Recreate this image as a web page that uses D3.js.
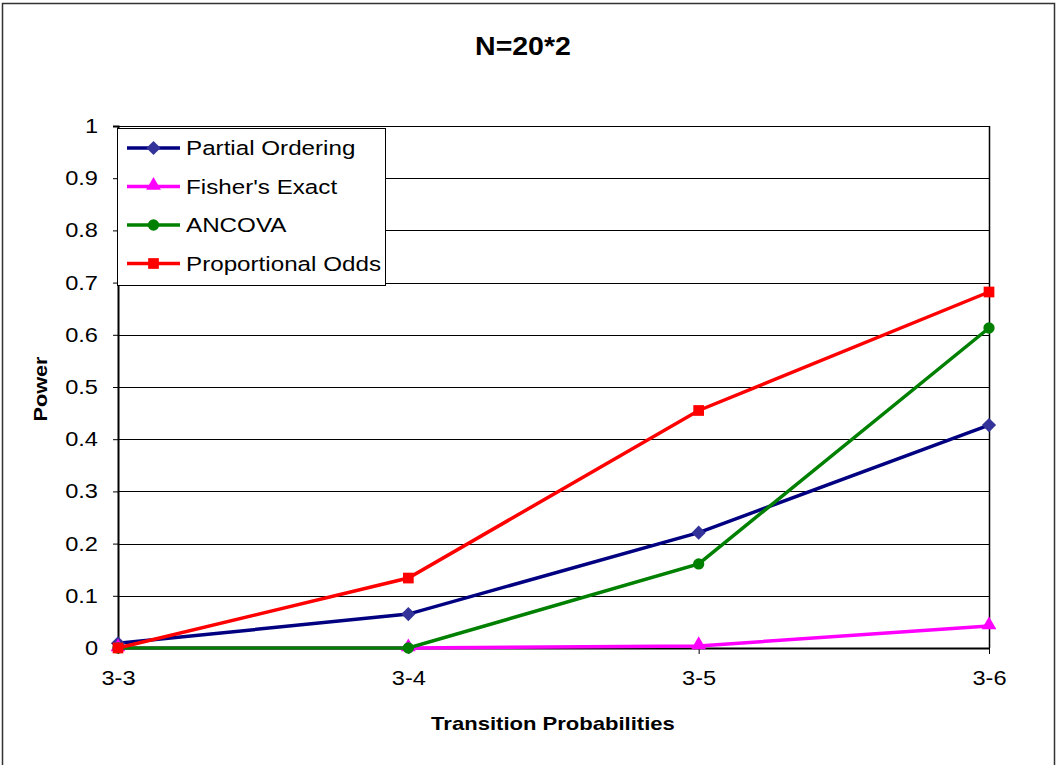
<!DOCTYPE html>
<html lang="en">
<head>
<meta charset="UTF-8">
<title>N=20*2</title>
<script src="https://cdn.jsdelivr.net/npm/d3@7"></script>
<style>
	body { margin: 0; background: #fff; }
	text { font-family: "Liberation Sans", Arial, sans-serif; }
</style>
</head>
<body>
<div id="chart"></div>
<script>
let categories = ['3-3', '3-4', '3-5', '3-6'];
let yTicks = [0, 0.1, 0.2, 0.3, 0.4, 0.5, 0.6, 0.7, 0.8, 0.9, 1];
let partialOrdering = [0.009, 0.065, 0.221, 0.427];
let fishersExact = [0, 0, 0.004, 0.042];
let ancova = [0, 0, 0.161, 0.613];
let proportionalOdds = [0, 0.134, 0.455, 0.682];

let series = [
	{ name: 'Partial Ordering', values: partialOrdering, line: '#000080', fill: '#333399', shape: 'diamond' },
	{ name: "Fisher's Exact", values: fishersExact, line: '#ff00ff', fill: '#ff00ff', shape: 'triangle' },
	{ name: 'ANCOVA', values: ancova, line: '#008000', fill: '#008000', shape: 'circle' },
	{ name: 'Proportional Odds', values: proportionalOdds, line: '#ff0000', fill: '#ff0000', shape: 'square' }
];

let width = 1058, height = 765;
let plot = { left: 118, right: 989, top: 126, bottom: 648 };

// the original text is a little wider than Arial, stretch it sideways
function stretch(sel, f) {
	sel.each(function() {
		let w = this.getComputedTextLength();
		d3.select(this).attr('textLength', w * f).attr('lengthAdjust', 'spacingAndGlyphs');
	});
}

let svg = d3.select('#chart').append('svg')
	.attr('width', width).attr('height', height);

// outer frame
svg.append('rect')
	.attr('x', 2.5).attr('y', 3.5)
	.attr('width', 1052).attr('height', 770)
	.attr('fill', 'white').attr('stroke', '#333').attr('stroke-width', 1.5);

let x = d3.scalePoint().domain(categories).range([plot.left, plot.right]);
let y = d3.scaleLinear().domain([0, 1]).range([plot.bottom, plot.top]);

// gridlines
svg.append('g').selectAll('line').data(yTicks.slice(1)).enter().append('line')
	.attr('x1', plot.left).attr('x2', plot.right)
	.attr('y1', d => Math.round(y(d)) + 0.5).attr('y2', d => Math.round(y(d)) + 0.5)
	.attr('stroke', '#000').attr('stroke-width', 1);

// right border of plot area
svg.append('line')
	.attr('x1', plot.right + 0.5).attr('x2', plot.right + 0.5)
	.attr('y1', plot.top).attr('y2', plot.bottom)
	.attr('stroke', '#000').attr('stroke-width', 1.5);

// y axis
let yAxis = svg.append('g')
	.attr('transform', `translate(${plot.left},0)`)
	.call(d3.axisLeft(y).tickValues(yTicks).tickFormat(d3.format('')).tickSize(5).tickPadding(15));
yAxis.select('.domain').attr('stroke', '#000').attr('stroke-width', 2);
yAxis.selectAll('text').attr('font-size', 20).attr('fill', '#000').call(stretch, 1.18);

// x axis
let xAxis = svg.append('g')
	.attr('transform', `translate(0,${plot.bottom})`)
	.call(d3.axisBottom(x).tickSize(6).tickPadding(17).tickSizeOuter(0));
xAxis.select('.domain').attr('stroke', '#000').attr('stroke-width', 2);
xAxis.selectAll('text').attr('font-size', 20).attr('fill', '#000').call(stretch, 1.18);

// lines
let line = d3.line().x((d, i) => x(categories[i])).y(d => y(d));

let symbolType = { diamond: d3.symbolSquare, triangle: d3.symbolTriangle, circle: d3.symbolCircle, square: d3.symbolSquare };
let symbolSize = { diamond: 100, triangle: 95, circle: 100, square: 115 };

function markerTransform(s, px, py) {
	if (s.shape === 'diamond') return `translate(${px},${py}) rotate(45)`;
	if (s.shape === 'triangle') return `translate(${px},${py - 1})`;
	return `translate(${px},${py})`;
}

series.forEach(s => {
	svg.append('path')
		.datum(s.values)
		.attr('d', line)
		.attr('fill', 'none')
		.attr('stroke', s.line)
		.attr('stroke-width', 3.5);
	svg.append('g').selectAll('path').data(s.values).enter().append('path')
		.attr('transform', (d, i) => markerTransform(s, x(categories[i]), y(d)))
		.attr('d', d3.symbol().type(symbolType[s.shape]).size(symbolSize[s.shape]))
		.attr('fill', s.fill);
});

// titles
svg.append('text')
	.attr('x', 523).attr('y', 55)
	.attr('text-anchor', 'middle')
	.attr('font-size', 25).attr('font-weight', 'bold')
	.text('N=20*2')
	.call(stretch, 1.14);

svg.append('text')
	.attr('x', 553).attr('y', 730)
	.attr('text-anchor', 'middle')
	.attr('font-size', 19).attr('font-weight', 'bold')
	.text('Transition Probabilities')
	.call(stretch, 1.16);

svg.append('text')
	.attr('transform', 'translate(47,389) rotate(-90)')
	.attr('text-anchor', 'middle')
	.attr('font-size', 19).attr('font-weight', 'bold')
	.text('Power')
	.call(stretch, 1.14);

// legend
let legend = svg.append('g').attr('transform', 'translate(117,128)');
legend.append('rect')
	.attr('x', 0.5).attr('y', 0.5).attr('width', 268).attr('height', 157)
	.attr('fill', 'white').attr('stroke', '#000').attr('stroke-width', 1);

series.forEach((s, i) => {
	let cy = 20 + i * 38.5;
	let g = legend.append('g').attr('transform', `translate(0,${cy})`);
	g.append('line')
		.attr('x1', 10).attr('x2', 63).attr('y1', 0).attr('y2', 0)
		.attr('stroke', s.line).attr('stroke-width', 3.5);
	g.append('path')
		.attr('transform', markerTransform(s, 36.5, 0))
		.attr('d', d3.symbol().type(symbolType[s.shape]).size(symbolSize[s.shape]))
		.attr('fill', s.fill);
	g.append('text')
		.attr('x', 69).attr('y', 7)
		.attr('font-size', 20.5)
		.text(s.name)
		.call(stretch, 1.18);
});
</script>
</body>
</html>
